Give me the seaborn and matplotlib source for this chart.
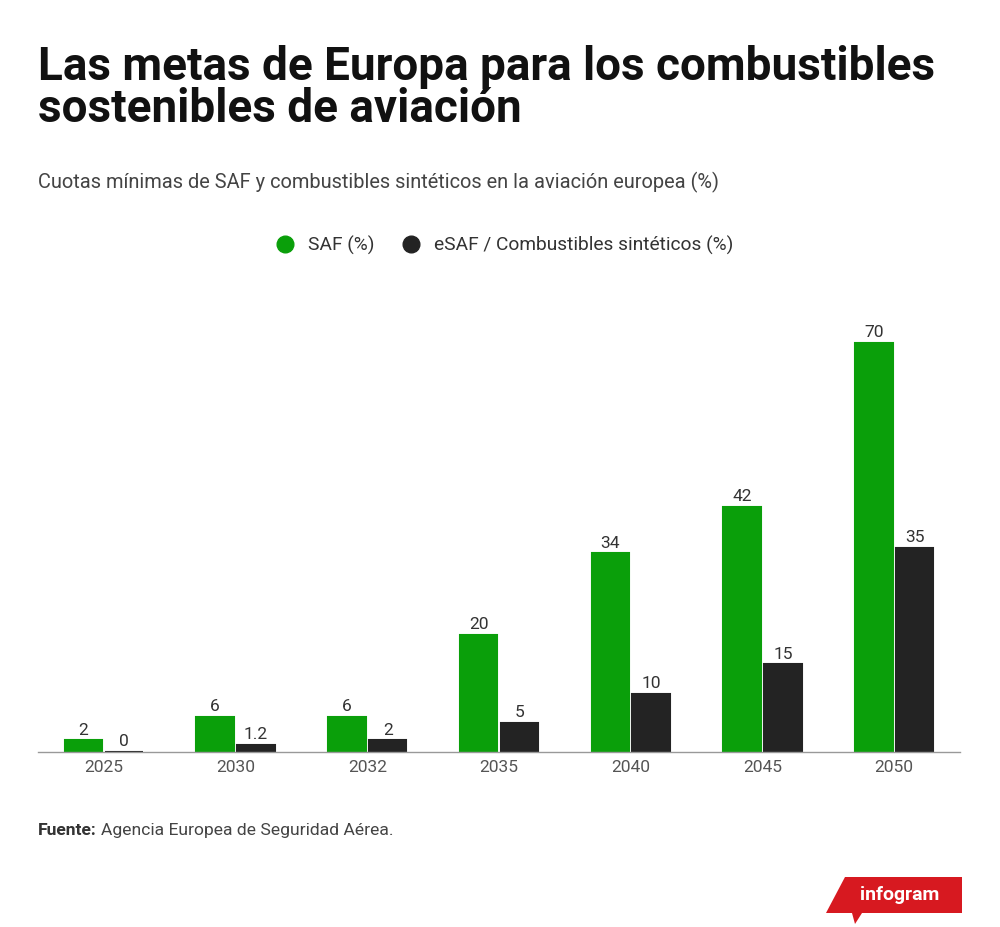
import matplotlib
matplotlib.use("Agg")
import matplotlib.pyplot as plt
import matplotlib.patches as mpatches
import seaborn as sns
import pandas as pd

years = ["2025", "2030", "2032", "2035", "2040", "2045", "2050"]
saf = [2, 6, 6, 20, 34, 42, 70]
esaf = [0, 1.2, 2, 5, 10, 15, 35]
series_names = ["SAF (%)", "eSAF / Combustibles sintéticos (%)"]
value_labels = {
    "SAF (%)": ["2", "6", "6", "20", "34", "42", "70"],
    "eSAF / Combustibles sintéticos (%)": ["0", "1.2", "2", "5", "10", "15", "35"],
}

GREEN = "#0a9f0a"
DARK = "#232323"


def build_frame():
    rows = []
    for y, a, b in zip(years, saf, esaf):
        rows.append({"year": y, "serie": series_names[0], "valor": a})
        rows.append({"year": y, "serie": series_names[1], "valor": b})
    return pd.DataFrame(rows)


def main():
    sns.set_theme(style="white")
    plt.rcParams["font.family"] = ["Roboto", "DejaVu Sans"]

    df = build_frame()
    fig = plt.figure(figsize=(10, 9.27), dpi=100)
    ax = fig.add_axes([0.038, 0.1888, 0.922, 0.4725])

    sns.barplot(data=df, x="year", y="valor", hue="serie", order=years,
                hue_order=series_names, palette=[GREEN, DARK], saturation=1,
                width=0.62, gap=0.08, ax=ax, legend=False,
                linewidth=1.5, errorbar=None)

    for container, name in zip(ax.containers, series_names):
        color = GREEN if name == series_names[0] else DARK
        for bar in container:
            bar.set_edgecolor(color)
        ax.bar_label(container, labels=value_labels[name], padding=2,
                     fontsize=12.5, color="#333333")

    ax.set_ylim(0, 75)
    ax.set_xlim(-0.5, len(years) - 0.5)
    ax.set_xlabel("")
    ax.set_ylabel("")
    ax.set_yticks([])
    ax.tick_params(axis="x", length=0, labelsize=12.5, labelcolor="#555555", pad=6)
    for s in ["top", "right", "left"]:
        ax.spines[s].set_visible(False)
    ax.spines["bottom"].set_color("#999999")
    ax.spines["bottom"].set_linewidth(1)

    # title and subtitle
    fig.text(0.038, 1 - 80 / 927, "Las metas de Europa para los combustibles",
             fontsize=33, fontweight="bold", color="#111111", va="baseline")
    fig.text(0.038, 1 - 122 / 927, "sostenibles de aviación",
             fontsize=33, fontweight="bold", color="#111111", va="baseline")
    fig.text(0.038, 1 - 188 / 927,
             "Cuotas mínimas de SAF y combustibles sintéticos en la aviación europea (%)",
             fontsize=14.4, color="#444444", va="baseline")

    # legend
    handles = [plt.Line2D([], [], marker="o", linestyle="", markersize=12,
                          markerfacecolor=c, markeredgecolor=c)
               for c in [GREEN, DARK]]
    fig.legend(handles, series_names, loc="center", bbox_to_anchor=(0.5, 1 - 245 / 927),
               ncol=2, frameon=False, fontsize=13.8, handletextpad=0.2,
               columnspacing=0.9, labelcolor="#333333")

    # source
    src = fig.text(0.038, 1 - 835 / 927, "Fuente:", fontsize=12.6, fontweight="bold",
                   color="#333333", va="baseline")
    fig.canvas.draw()
    bb = src.get_window_extent()
    fig.text((bb.x1 + 4) / 1000, 1 - 835 / 927, "Agencia Europea de Seguridad Aérea.",
             fontsize=12.6, color="#444444", va="baseline")

    # infogram badge
    W, H = 1000, 927
    pts = [(845, 877), (962, 877), (962, 913), (862, 913), (855, 924),
           (852, 913), (826, 913)]
    badge = mpatches.Polygon([(x / W, 1 - y / H) for x, y in pts], closed=True,
                             transform=fig.transFigure, facecolor="#d71920",
                             edgecolor="none")
    fig.patches.append(badge)
    fig.text(900 / W, 1 - 895 / H, "infogram", fontsize=14, fontweight="bold",
             color="white", ha="center", va="center", fontstretch="condensed")

    fig.savefig("out.png", dpi=100)


if __name__ == "__main__":
    main()
